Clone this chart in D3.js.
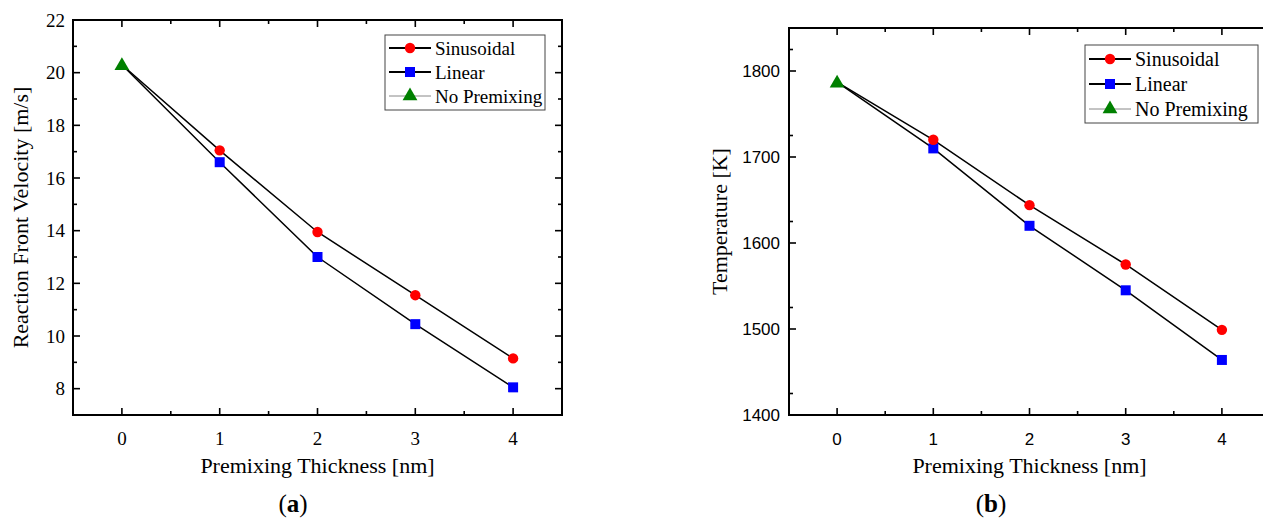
<!DOCTYPE html>
<html>
<head>
<meta charset="utf-8">
<script src="https://cdn.jsdelivr.net/npm/d3@7/dist/d3.min.js"></script>
<style>
  body { margin: 0; background: #fff; }
  svg { display: block; }
</style>
</head>
<body>
<svg id="chart" width="1263" height="521"></svg>
<script>
// data
var thickness = [0, 1, 2, 3, 4];
var seriesNames = ["Sinusoidal", "Linear", "No Premixing"];

var velSinusoidal = [20.3, 17.05, 13.95, 11.55, 9.15];
var velLinear = [20.3, 16.6, 13.0, 10.45, 8.05];
var velNoPremix = [20.3];

var tempSinusoidal = [1787, 1720, 1644, 1575, 1499];
var tempLinear = [1787, 1710, 1620, 1545, 1464];
var tempNoPremix = [1787];

var velTicks = [8, 10, 12, 14, 16, 18, 20, 22];
var tempTicks = [1400, 1500, 1600, 1700, 1800];
var xTicks = [0, 1, 2, 3, 4];

var svg = d3.select("#chart");
var serif = "'Liberation Serif', 'Times New Roman', serif";
var sans = "'Liberation Sans', Arial, sans-serif";

function drawPanel(opt) {
  var x = d3.scaleLinear().domain([-0.5, 4.5]).range([opt.left, opt.right]);
  var y = d3.scaleLinear().domain(opt.yDomain).range([opt.bottom, opt.top]);
  var g = svg.append("g");

  // minor ticks (inward)
  var xMinor = d3.range(-0.5, 4.51, 0.5).filter(function(d) { return d % 1 !== 0; });
  var yMinor = [];
  for (var i = 0; i < opt.yTicks.length; i++) {
    var m = opt.yTicks[i] + opt.yStep / 2;
    if (m < opt.yDomain[1]) yMinor.push(m);
  }

  var tickG = g.append("g").attr("stroke", "#000").attr("stroke-width", 1.6);
  xTicks.forEach(function(d) {
    tickG.append("line").attr("x1", x(d)).attr("x2", x(d)).attr("y1", opt.bottom).attr("y2", opt.bottom - 7);
    tickG.append("line").attr("x1", x(d)).attr("x2", x(d)).attr("y1", opt.top).attr("y2", opt.top + 7);
  });
  xMinor.forEach(function(d) {
    tickG.append("line").attr("x1", x(d)).attr("x2", x(d)).attr("y1", opt.bottom).attr("y2", opt.bottom - 4);
    tickG.append("line").attr("x1", x(d)).attr("x2", x(d)).attr("y1", opt.top).attr("y2", opt.top + 4);
  });
  opt.yTicks.forEach(function(d) {
    tickG.append("line").attr("x1", opt.left).attr("x2", opt.left + 7).attr("y1", y(d)).attr("y2", y(d));
    tickG.append("line").attr("x1", opt.right).attr("x2", opt.right - 7).attr("y1", y(d)).attr("y2", y(d));
  });
  yMinor.forEach(function(d) {
    tickG.append("line").attr("x1", opt.left).attr("x2", opt.left + 4).attr("y1", y(d)).attr("y2", y(d));
    tickG.append("line").attr("x1", opt.right).attr("x2", opt.right - 4).attr("y1", y(d)).attr("y2", y(d));
  });

  // frame
  g.append("rect")
    .attr("x", opt.left).attr("y", opt.top)
    .attr("width", opt.right - opt.left).attr("height", opt.bottom - opt.top)
    .attr("fill", "none").attr("stroke", "#000").attr("stroke-width", 2);

  // tick labels
  g.append("g").selectAll("text").data(xTicks).enter().append("text")
    .attr("x", function(d) { return x(d); })
    .attr("y", opt.bottom + 30)
    .attr("text-anchor", "middle")
    .attr("font-family", opt.tickFont).attr("font-size", opt.tickSize)
    .text(function(d) { return d; });
  g.append("g").selectAll("text").data(opt.yTicks).enter().append("text")
    .attr("x", opt.left - opt.tickPad)
    .attr("y", function(d) { return y(d); })
    .attr("dy", "0.35em")
    .attr("text-anchor", "end")
    .attr("font-family", opt.tickFont).attr("font-size", opt.tickSize)
    .text(function(d) { return d; });

  // axis titles
  g.append("text")
    .attr("x", (opt.left + opt.xTitleRight) / 2).attr("y", opt.bottom + 58)
    .attr("text-anchor", "middle")
    .attr("font-family", serif).attr("font-size", 22)
    .text("Premixing Thickness [nm]");
  g.append("text")
    .attr("transform", "translate(" + opt.yTitleX + "," + (opt.top + opt.bottom) / 2 + ") rotate(-90)")
    .attr("text-anchor", "middle")
    .attr("font-family", serif).attr("font-size", 22)
    .text(opt.yTitle);

  // caption
  var cap = g.append("text")
    .attr("x", opt.captionX).attr("y", 512)
    .attr("text-anchor", "middle")
    .attr("font-family", serif).attr("font-size", 25);
  cap.append("tspan").text("(");
  cap.append("tspan").attr("font-weight", "bold").text(opt.caption);
  cap.append("tspan").text(")");

  // lines
  var line = d3.line()
    .x(function(d, i) { return x(thickness[i]); })
    .y(function(d) { return y(d); });
  var plot = g.append("g");
  plot.append("path").datum(opt.sinus).attr("d", line)
    .attr("fill", "none").attr("stroke", "#000").attr("stroke-width", 1.5);
  plot.append("path").datum(opt.linear).attr("d", line)
    .attr("fill", "none").attr("stroke", "#000").attr("stroke-width", 1.5);

  // markers
  var circle = d3.symbol().type(d3.symbolCircle).size(85);
  var square = d3.symbol().type(d3.symbolSquare).size(100);
  var tri = d3.symbol().type(d3.symbolTriangle).size(95);

  plot.selectAll(".lin").data(opt.linear.slice(1)).enter().append("path")
    .attr("d", square)
    .attr("transform", function(d, i) { return "translate(" + x(thickness[i + 1]) + "," + y(d) + ")"; })
    .attr("fill", "#0000ff");
  plot.selectAll(".sin").data(opt.sinus.slice(1)).enter().append("path")
    .attr("d", circle)
    .attr("transform", function(d, i) { return "translate(" + x(thickness[i + 1]) + "," + y(d) + ")"; })
    .attr("fill", "#ff0000");
  plot.selectAll(".nop").data(opt.nopremix).enter().append("path")
    .attr("d", tri)
    .attr("transform", function(d, i) { return "translate(" + x(thickness[i]) + "," + (y(d) + 1) + ")"; })
    .attr("fill", "#008000");

  // legend
  var lg = g.append("g").attr("transform", "translate(" + opt.legX + "," + opt.legY + ")");
  lg.append("rect").attr("width", opt.legW).attr("height", opt.legH)
    .attr("fill", "#fff").attr("stroke", "#444").attr("stroke-width", 1);
  var markers = [
    { sym: circle, color: "#ff0000", stroke: "#000", sw: 2 },
    { sym: square, color: "#0000ff", stroke: "#000", sw: 2 },
    { sym: tri, color: "#008000", stroke: "#888", sw: 1 }
  ];
  seriesNames.forEach(function(name, i) {
    var yy = opt.legRow0 + i * opt.legRowH;
    lg.append("line").attr("x1", 4).attr("x2", 46).attr("y1", yy).attr("y2", yy)
      .attr("stroke", markers[i].stroke).attr("stroke-width", markers[i].sw);
    lg.append("path").attr("d", markers[i].sym)
      .attr("transform", "translate(25," + yy + ")")
      .attr("fill", markers[i].color);
    lg.append("text").attr("x", 50).attr("y", yy).attr("dy", "0.35em")
      .attr("font-family", serif).attr("font-size", opt.legFont)
      .text(name);
  });
}

drawPanel({
  left: 73, right: 562, top: 20, bottom: 415, xTitleRight: 562,
  yDomain: [7, 22], yTicks: velTicks, yStep: 2,
  sinus: velSinusoidal, linear: velLinear, nopremix: velNoPremix,
  tickFont: serif, tickSize: 19, tickPad: 8,
  yTitle: "Reaction Front Velocity [m/s]", yTitleX: 28,
  caption: "a", captionX: 293,
  legX: 385, legY: 35, legW: 160, legH: 75, legRow0: 13, legRowH: 24, legFont: 19
});

drawPanel({
  left: 789, right: 1270, top: 28, bottom: 415, xTitleRight: 1270,
  yDomain: [1400, 1850], yTicks: tempTicks, yStep: 50,
  sinus: tempSinusoidal, linear: tempLinear, nopremix: tempNoPremix,
  tickFont: sans, tickSize: 17, tickPad: 9,
  yTitle: "Temperature [K]", yTitleX: 727,
  caption: "b", captionX: 991,
  legX: 1085, legY: 45, legW: 173, legH: 78, legRow0: 14, legRowH: 25, legFont: 20
});
</script>
</body>
</html>
